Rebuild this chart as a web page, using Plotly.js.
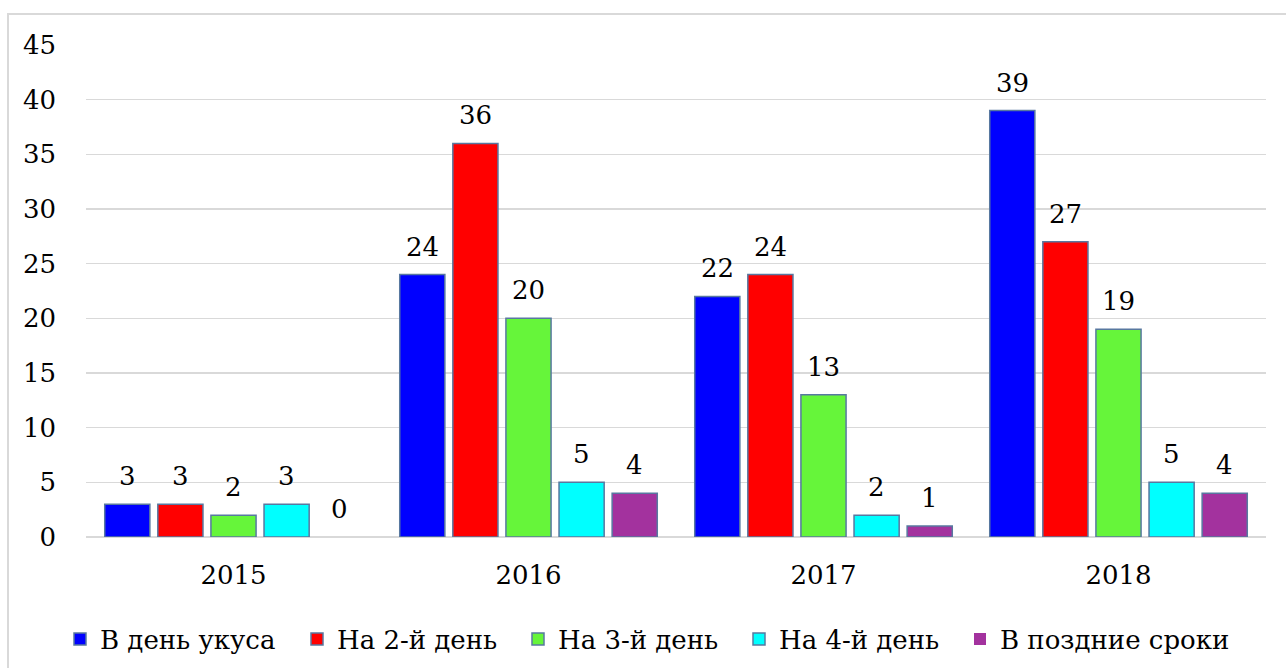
<!DOCTYPE html>
<html>
<head>
<meta charset="utf-8">
<script src="https://cdn.plot.ly/plotly-3.0.1.min.js"></script>
<style>html,body{margin:0;padding:0;background:#fff;}#chart{width:1286px;height:668px;}</style>
</head>
<body>
<div id="chart"></div>
<script>
const categories = ['2015', '2016', '2017', '2018'];
const seriesNames = ['В день укуса', 'На 2-й день', 'На 3-й день', 'На 4-й день', 'В поздние сроки'];
const dayOfBite = [3, 24, 22, 39];
const day2 = [3, 36, 24, 27];
const day3 = [2, 20, 13, 19];
const day4 = [3, 5, 2, 5];
const later = [0, 4, 1, 4];
const yTicks = [0, 5, 10, 15, 20, 25, 30, 35, 40, 45];

const seriesValues = [dayOfBite, day2, day3, day4, later];
const colors = ['#0000FF', '#FF0000', '#66F53A', '#00FFFF', '#A3329E'];
const legendWidths = [192, 176, 176, 176, undefined];
const FONT = 'DejaVu Serif, serif';
const FS = 26;
const bargap = 0.10, bargroupgap = 0.15;

const traces = seriesValues.map((vals, j) => {
  const t = {
    type: 'bar',
    name: seriesNames[j],
    x: categories,
    y: vals,
    marker: {color: colors[j], line: {color: '#5878A0', width: vals.map(v => v === 0 ? 0 : 1.5)}},
    hoverinfo: 'y+name'
  };
  if (legendWidths[j]) t.legendwidth = legendWidths[j];
  return t;
});

const n = seriesValues.length;
const slot = (1 - bargap) / n;
const annotations = [];
seriesValues.forEach((vals, j) => {
  vals.forEach((v, i) => {
    annotations.push({
      x: i + (j - (n - 1) / 2) * slot,
      y: v,
      xref: 'x', yref: 'y',
      text: String(v),
      showarrow: false,
      yanchor: 'middle',
      yshift: 28,
      font: {family: FONT, size: FS, color: '#000'}
    });
  });
});

const layout = {
  width: 1286, height: 668,
  margin: {l: 86, r: 20, t: 45, b: 131},
  paper_bgcolor: '#fff', plot_bgcolor: '#fff',
  barmode: 'group', bargap: bargap, bargroupgap: bargroupgap,
  font: {family: FONT, size: FS, color: '#000'},
  xaxis: {
    type: 'category',
    showgrid: false, showline: false, zeroline: false,
    ticks: '', ticklabelstandoff: 20,
    tickfont: {family: FONT, size: FS, color: '#000'}
  },
  yaxis: {
    range: [0, 45], tickvals: yTicks, ticktext: yTicks.map(String),
    showgrid: true, gridcolor: '#D9D9D9', gridwidth: 1.5,
    zeroline: true, zerolinecolor: '#D9D9D9', zerolinewidth: 1.5,
    showline: false, ticks: '', ticklabelstandoff: 29,
    tickfont: {family: FONT, size: FS, color: '#000'}
  },
  showlegend: true,
  legend: {
    orientation: 'h', xref: 'container', yref: 'container',
    x: 60 / 1286, xanchor: 'left', y: 1 - 639 / 668, yanchor: 'middle',
    font: {family: FONT, size: FS, color: '#000'}, traceorder: 'normal'
  },
  annotations: annotations,
  shapes: [{
    type: 'path', xref: 'paper', yref: 'paper',
    path: 'M -0.0661 -0.3 L -0.0661 1.063 L 1.2 1.063',
    line: {color: '#D9D9D9', width: 2}
  }]
};

Plotly.newPlot('chart', traces, layout, {displayModeBar: false, staticPlot: true});
</script>
</body>
</html>
